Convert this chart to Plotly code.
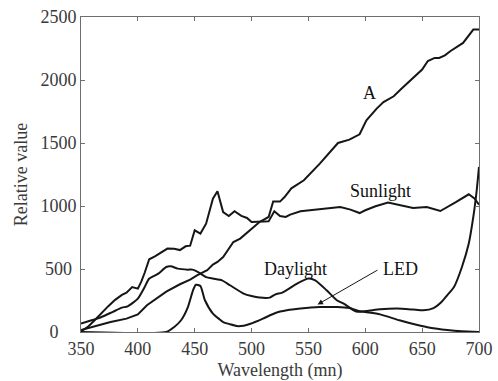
import plotly.graph_objects as go

# Spectral power distributions (wavelength in nm, relative value)
a_wl = [350, 360, 376, 390, 397, 400, 408, 416, 425, 437, 446, 452, 461, 466, 470,
        475, 484, 490, 499, 507, 515, 519, 525, 529, 535, 546, 560, 576, 586, 595,
        601, 610, 616, 625, 632, 650, 655, 661, 665, 670, 675, 686, 695, 700]
a_val = [15, 40, 79, 106, 132, 140, 212, 262, 320, 379, 416, 450, 490, 535, 556,
         595, 714, 741, 807, 873, 913, 1035, 1035, 1071, 1140, 1204, 1336, 1500, 1527, 1569,
         1680, 1773, 1825, 1871, 1932, 2083, 2151, 2175, 2175, 2196, 2230, 2294, 2400, 2400]

sun_wl = [350, 356, 362, 368, 374, 380, 386, 390, 395, 400, 403, 406, 410, 415, 420,
          426, 432, 437, 442, 446, 450, 455, 460, 466, 470, 475, 480, 485, 491, 496,
          500, 515, 520, 525, 530, 534, 543, 551, 560, 569, 578, 587, 595, 600, 609,
          620, 631, 642, 654, 666, 680, 691, 696, 700]
sun_val = [5, 40, 93, 150, 205, 255, 295, 312, 357, 344, 400, 470, 577, 600, 630,
           662, 660, 650, 680, 685, 807, 781, 860, 1058, 1117, 952, 921, 958, 921, 905,
           873, 878, 958, 921, 913, 932, 958, 966, 975, 979, 992, 971, 944, 966, 998,
           1027, 1006, 984, 992, 960, 1032, 1093, 1060, 1010]

day_wl = [350, 360, 368, 378, 386, 391, 400, 406, 410, 418, 425, 429, 435, 444, 448,
          453, 460, 466, 474, 481, 493, 500, 507, 516, 521, 527, 540, 550, 556, 566,
          575, 581, 592, 601, 613, 628, 642, 651, 660, 667, 672, 678, 685, 691, 695,
          698, 700]
day_val = [67, 95, 119, 160, 193, 204, 265, 357, 424, 463, 516, 521, 503, 495, 495,
           476, 436, 424, 410, 371, 305, 285, 273, 273, 299, 313, 384, 424, 410, 331,
           252, 225, 162, 167, 180, 186, 178, 172, 190, 238, 291, 357, 516, 702, 913,
           1125, 1310]

led_wl = [350, 425, 432, 438, 444, 448.5, 451, 455, 459, 466, 472, 475, 481, 487, 493,
          499, 510, 521, 531, 543, 560, 575, 586, 594, 600, 613, 630, 645, 657, 672,
          685, 700]
led_val = [0, 0, 40, 93, 198, 331, 375, 365, 252, 146, 100, 79, 62, 47, 50,
           65, 106, 151, 172, 186, 198, 198, 190, 167, 158, 140, 93, 57, 33, 15,
           5, 0]

x_ticks = [350, 400, 450, 500, 550, 600, 650, 700]
x_labels = ["350", "400", "450", "500", "550", "600", "650", "700"]
y_ticks = [0, 500, 1000, 1500, 2000, 2500]
# short labels are padded so the column of numbers sits roughly centred
y_labels = ["0\u00a0\u00a0\u00a0\u00a0", "500\u00a0", "1000", "1500", "2000", "2500"]

FONT = "Liberation Serif, Times New Roman, serif"
TEXT = "#3a3a3a"
LINE = dict(color="#161616", width=2)

fig = go.Figure()
fig.add_trace(go.Scatter(x=a_wl, y=a_val, mode="lines", line=LINE, name="A"))
fig.add_trace(go.Scatter(x=sun_wl, y=sun_val, mode="lines", line=LINE, name="Sunlight"))
fig.add_trace(go.Scatter(x=day_wl, y=day_val, mode="lines",
                         line=dict(LINE, shape="spline", smoothing=0.6), name="Daylight"))
fig.add_trace(go.Scatter(x=led_wl, y=led_val, mode="lines",
                         line=dict(LINE, shape="spline", smoothing=0.6), name="LED"))

# Curve labels
for txt, x, y in [("A", 603.5, 1897), ("Sunlight", 613, 1119),
                  ("Daylight", 539, 503), ("LED", 631, 503)]:
    fig.add_annotation(x=x, y=y, text=txt, showarrow=False,
                       font=dict(family=FONT, size=18, color="#111111"))

# Arrow from the LED label to its curve
fig.add_annotation(x=558, y=218, ax=612, ay=498, axref="x", ayref="y",
                   xref="x", yref="y", text="", showarrow=True,
                   arrowhead=2, arrowsize=1.1, arrowwidth=1, arrowcolor="#161616")

axis_common = dict(showgrid=False, zeroline=False, showline=True, linecolor="#6e6e6e",
                   linewidth=1, mirror="ticks", ticks="inside", ticklen=4,
                   tickcolor="#6e6e6e", automargin=False,
                   tickfont=dict(family=FONT, size=18, color=TEXT))

fig.update_xaxes(range=[350, 700], tickvals=x_ticks, ticktext=x_labels,
                 title=dict(text="Wavelength (mn)", font=dict(family=FONT, size=18, color=TEXT)),
                 **axis_common)
fig.update_yaxes(range=[0, 2500], tickvals=y_ticks, ticktext=y_labels,
                 title=dict(text="Relative value", font=dict(family=FONT, size=18, color=TEXT),
                            standoff=8),
                 **axis_common)

fig.update_layout(width=498, height=381, margin=dict(l=81, r=19, t=17, b=49),
                  plot_bgcolor="white", paper_bgcolor="white", showlegend=False)

fig.write_html("out.html")
